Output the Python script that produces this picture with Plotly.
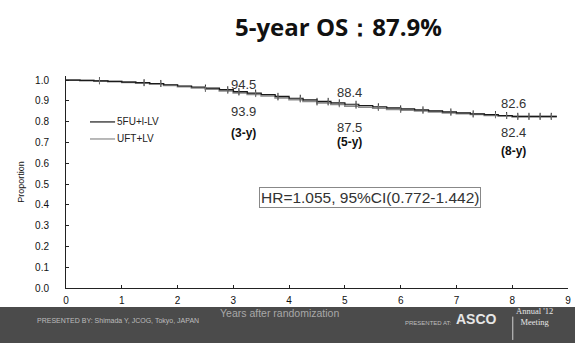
import plotly.graph_objects as go

# ---------------- data ----------------
title_text = "5-year OS：87.9%"
series_names = ["5FU+l-LV", "UFT+LV"]
times = [0.0, 0.25, 0.5, 0.75, 1.0, 1.25, 1.5, 1.75, 2.0, 2.25, 2.5, 2.75, 3.0,
         3.25, 3.5, 3.75, 4.0, 4.25, 4.5, 4.75, 5.0, 5.25, 5.5, 5.75, 6.0,
         6.25, 6.5, 6.75, 7.0, 7.25, 7.5, 7.75, 8.0, 8.25, 8.5, 8.8]
surv_a = [1.000, 0.999, 0.997, 0.994, 0.991, 0.988, 0.984, 0.978, 0.972, 0.967, 0.962, 0.954, 0.945,
          0.938, 0.931, 0.922, 0.913, 0.905, 0.898, 0.891, 0.884, 0.878, 0.872, 0.867, 0.862,
          0.857, 0.852, 0.847, 0.843, 0.838, 0.834, 0.830, 0.826, 0.826, 0.826, 0.826]
surv_b = [1.000, 0.998, 0.996, 0.993, 0.990, 0.986, 0.981, 0.975, 0.969, 0.963, 0.957, 0.948, 0.939,
          0.932, 0.924, 0.915, 0.906, 0.898, 0.891, 0.883, 0.875, 0.870, 0.865, 0.860, 0.856,
          0.852, 0.848, 0.843, 0.839, 0.835, 0.831, 0.827, 0.824, 0.824, 0.824, 0.824]
censor_t = [0.6, 1.4, 1.7, 2.5, 2.9, 3.1, 3.4, 3.8, 4.2, 4.5, 4.7, 4.9, 5.2, 5.6,
            6.0, 6.4, 6.9, 7.3, 7.7, 7.9, 8.1, 8.3, 8.5, 8.7]
year_marks = [3, 5, 8]
vals_a = [94.5, 88.4, 82.6]
vals_b = [93.9, 87.5, 82.4]
year_labels = ["(3-y)", "(5-y)", "(8-y)"]
hr_text = "HR=1.055, 95%CI(0.772-1.442)"
x_title = "Years after randomization"
y_title = "Proportion"
x_ticks = [0, 1, 2, 3, 4, 5, 6, 7, 8, 9]
y_ticks = [0.0, 0.1, 0.2, 0.3, 0.4, 0.5, 0.6, 0.7, 0.8, 0.9, 1.0]
footer_left = "PRESENTED BY: Shimada Y, JCOG, Tokyo, JAPAN"
footer_mid = "PRESENTED AT:"
footer_logo = "ASCO"
footer_right = "Annual '12<br>Meeting"

# label placement (styling offsets in pixels, per year mark)
x_offsets = [10, 5, 1]
up_offsets = [7, 12, 13]
down_offsets = [-19, -21, -16]
paren_offsets = [-40, -36, -34]

def step_at(t, ts, ss):
    v = ss[0]
    for tt, s in zip(ts, ss):
        if tt <= t:
            v = s
    return v

SANS = "Liberation Sans, Arial"
fig = go.Figure()
fig.add_trace(go.Scatter(x=times, y=surv_b, mode="lines", line=dict(color="#8a8a8a", width=1.8, shape="hv"),
                         name=series_names[1], showlegend=False))
fig.add_trace(go.Scatter(x=times, y=surv_a, mode="lines", line=dict(color="#1a1a1a", width=1.2, shape="hv"),
                         name=series_names[0], showlegend=False))
fig.add_trace(go.Scatter(x=censor_t, y=[step_at(t, times, surv_a) for t in censor_t], mode="markers",
                         marker=dict(symbol="line-ns", size=5, line=dict(color="#222", width=1)), showlegend=False))
fig.add_trace(go.Scatter(x=censor_t, y=[step_at(t, times, surv_b) for t in censor_t], mode="markers",
                         marker=dict(symbol="line-ns", size=4, line=dict(color="#777", width=1)), showlegend=False))

# legend (manual, inside plot)
leg_colors = ["#1a1a1a", "#8a8a8a"]
leg_y = [0.799, 0.717]
for name, c, yy in zip(series_names, leg_colors, leg_y):
    fig.add_trace(go.Scatter(x=[0.43, 0.88], y=[yy, yy], mode="lines", line=dict(color=c, width=1.2), showlegend=False))
    fig.add_annotation(x=0.88, y=yy, text=name, showarrow=False, xanchor="left",
                       font=dict(family=SANS, size=10, color="#222"))

anno_font = dict(family=SANS, size=13, color="#333")
bold_font = dict(family=SANS, size=12, color="#111")
for i, (yr, a, b, lab) in enumerate(zip(year_marks, vals_a, vals_b, year_labels)):
    fig.add_annotation(x=yr, y=a / 100, text=f"{a}", showarrow=False, xanchor="center", xshift=x_offsets[i],
                       yshift=up_offsets[i], font=anno_font)
    fig.add_annotation(x=yr, y=b / 100, text=f"{b}", showarrow=False, xanchor="center", xshift=x_offsets[i],
                       yshift=down_offsets[i], font=anno_font)
    fig.add_annotation(x=yr, y=b / 100, text=f"<b>{lab}</b>", showarrow=False, xanchor="center",
                       xshift=x_offsets[i], yshift=paren_offsets[i], font=bold_font)

fig.add_annotation(x=0.605, xref="paper", y=0.427, yref="paper", text=hr_text, showarrow=False,
                   font=dict(family=SANS, size=15.5, color="#333"),
                   bordercolor="#888", borderwidth=1, borderpad=1, bgcolor="white")

# footer bar
fig.add_shape(type="rect", xref="paper", yref="paper", x0=-0.14, x1=1.02, y0=-0.27, y1=-0.090,
              fillcolor="#4b4b4b", line=dict(width=0), layer="below")
fig.add_annotation(x=0.426, xref="paper", y=-0.156, yref="paper", text=x_title, showarrow=False,
                   font=dict(family=SANS, size=10.5, color="#a8a8a8"))
fig.add_annotation(x=-0.062, xref="paper", y=-0.185, yref="paper", text=footer_left, showarrow=False,
                   xanchor="left", font=dict(family=SANS, size=7, color="#bdbdbd"))
fig.add_annotation(x=0.672, xref="paper", y=-0.19, yref="paper", text=footer_mid, showarrow=False,
                   xanchor="left", font=dict(family=SANS, size=6, color="#bdbdbd"))
fig.add_annotation(x=0.818, xref="paper", y=-0.193, yref="paper", text=f"<b>{footer_logo}</b>", showarrow=False,
                   xanchor="center", font=dict(family=SANS, size=14, color="#e6e6e6"))
fig.add_annotation(x=0.934, xref="paper", y=-0.195, yref="paper", text=footer_right, showarrow=False,
                   xanchor="center", font=dict(family="Liberation Serif, Times New Roman", size=8.5, color="#e6e6e6"))
fig.add_shape(type="line", xref="paper", yref="paper", x0=0.89, x1=0.89, y0=-0.245, y1=-0.135,
              line=dict(color="#d0d0d0", width=1))

fig.add_annotation(x=0.542, xref="paper", y=1.0, yref="paper", yanchor="middle", yshift=50,
                   text=f"<b>{title_text}</b>", showarrow=False,
                   font=dict(family="Open Sans, DejaVu Sans", size=24, color="#111"))

fig.update_layout(
    width=575, height=343, margin=dict(l=66, r=7, t=76, b=55, autoexpand=False),
    paper_bgcolor="white", plot_bgcolor="white", showlegend=False,
    xaxis=dict(range=[0, 9], tickvals=x_ticks, ticks="inside", ticklen=3, tickcolor="#222",
               showline=True, linecolor="#222", linewidth=1, showgrid=False, zeroline=False,
               ticklabelstandoff=3, automargin=False,
               tickfont=dict(family=SANS, size=10, color="#111")),
    yaxis=dict(range=[0, 1.02], tickvals=y_ticks, tickformat=".1f", ticks="inside", ticklen=3,
               tickcolor="#222", showline=True, linecolor="#222", linewidth=1, showgrid=False,
               zeroline=False, ticklabelstandoff=14, automargin=False,
               tickfont=dict(family=SANS, size=10, color="#111"),
               title=dict(text=y_title, font=dict(family=SANS, size=9, color="#111"), standoff=8)),
)

fig.write_html("out.html", config={"displayModeBar": False},
               post_script="document.body.style.margin='0';document.body.style.overflow='hidden';")
